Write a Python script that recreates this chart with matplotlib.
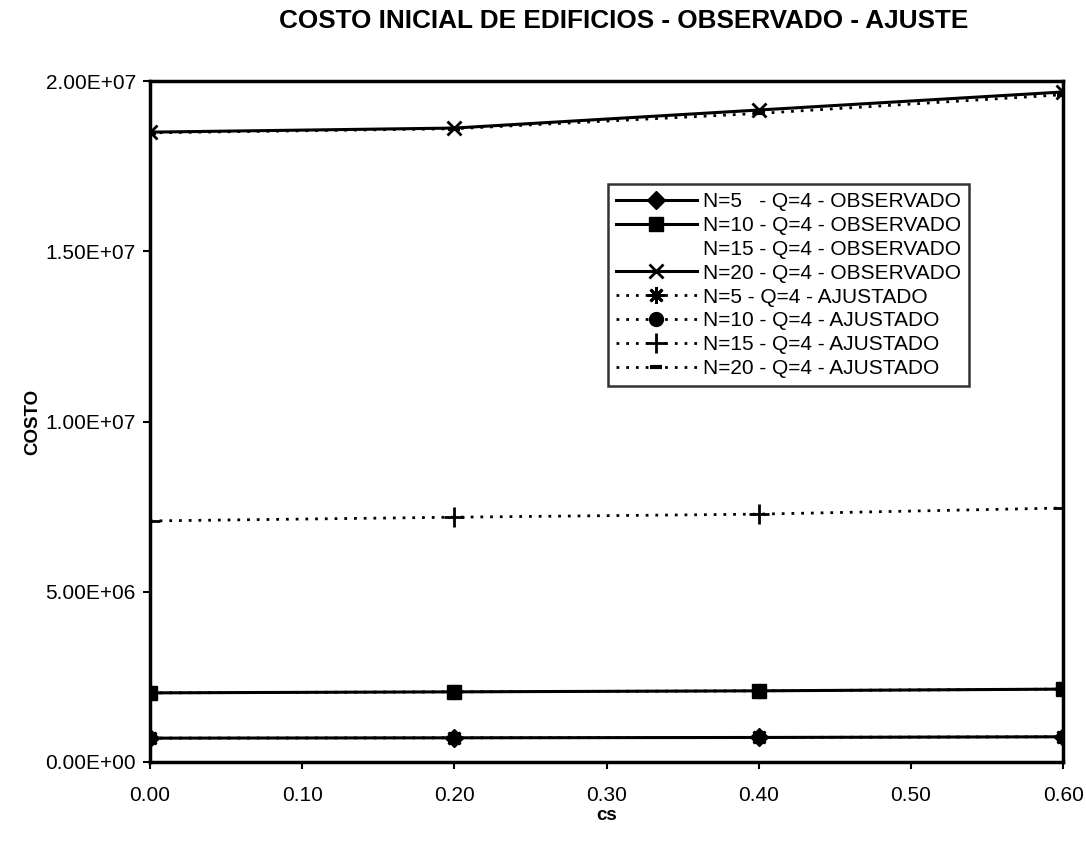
import matplotlib.pyplot as plt

plt.rcParams['font.family'] = ['Liberation Sans', 'DejaVu Sans']

cs = [0.0, 0.2, 0.4, 0.6]

# costos observados
obs_n5 = [7.0e5, 7.1e5, 7.2e5, 7.4e5]
obs_n10 = [2.03e6, 2.06e6, 2.09e6, 2.14e6]
obs_n15 = [7.08e6, 7.19e6, 7.28e6, 7.46e6]
obs_n20 = [1.850e7, 1.862e7, 1.915e7, 1.968e7]

# costos ajustados
aju_n5 = [7.0e5, 7.1e5, 7.2e5, 7.4e5]
aju_n10 = [2.03e6, 2.06e6, 2.09e6, 2.14e6]
aju_n15 = [7.08e6, 7.19e6, 7.28e6, 7.46e6]
aju_n20 = [1.848e7, 1.860e7, 1.905e7, 1.960e7]

labels_obs = ['N=5   - Q=4 - OBSERVADO', 'N=10 - Q=4 - OBSERVADO',
              'N=15 - Q=4 - OBSERVADO', 'N=20 - Q=4 - OBSERVADO']
labels_aju = ['N=5 - Q=4 - AJUSTADO', 'N=10 - Q=4 - AJUSTADO',
              'N=15 - Q=4 - AJUSTADO', 'N=20 - Q=4 - AJUSTADO']
yticks = [0, 5e6, 1e7, 1.5e7, 2e7]
ytick_labels = ['0.00E+00', '5.00E+06', '1.00E+07', '1.50E+07', '2.00E+07']

fig = plt.figure(figsize=(10.86, 8.49), dpi=100)
ax = fig.add_axes([0.138, 0.1025, 0.841, 0.802])

k = dict(color='black', linewidth=2.2)
ax.plot(cs, obs_n5, marker='D', markersize=9, label=labels_obs[0], **k)
ax.plot(cs, obs_n10, marker='s', markersize=10, label=labels_obs[1], **k)
ax.plot(cs, obs_n15, linestyle='none', marker='none', label=labels_obs[2], color='black')
ax.plot(cs, obs_n20, marker='x', markersize=10, markeredgewidth=2, label=labels_obs[3], **k)

d = dict(color='black', linewidth=2, linestyle=(0, (1, 2.5)))
ax.plot(cs, aju_n5, marker=(8, 2, 0), markersize=12, markeredgewidth=2, label=labels_aju[0], **d)
ax.plot(cs, aju_n10, marker='o', markersize=10, label=labels_aju[1], **d)
ax.plot(cs, aju_n15, marker='+', markersize=14, markeredgewidth=2, label=labels_aju[2], **d)
ax.plot(cs, aju_n20, marker='_', markersize=8, markeredgewidth=3, label=labels_aju[3], **d)

ax.set_xlim(0, 0.6)
ax.set_ylim(0, 2e7)
ax.set_xticks([0, 0.1, 0.2, 0.3, 0.4, 0.5, 0.6])
ax.set_xticklabels(['0.00', '0.10', '0.20', '0.30', '0.40', '0.50', '0.60'])
ax.set_yticks(yticks)
ax.set_yticklabels(ytick_labels)
ax.tick_params(labelsize=15, direction='out', length=5, width=1.5, colors='black')
ax.tick_params(axis='x', pad=12)
ax.tick_params(axis='y', pad=5)
for s in ax.spines.values():
    s.set_linewidth(2.5)

ax.set_title('COSTO INICIAL DE EDIFICIOS - OBSERVADO - AJUSTE',
             fontsize=18.8, fontweight='bold', pad=38, x=0.519)
ax.set_xlabel('cs', fontsize=13.5, fontweight='bold', labelpad=2)
ax.set_ylabel('COSTO', fontsize=13.5, fontweight='bold', labelpad=3)

leg = ax.legend(loc='upper left', bbox_to_anchor=(0.5016, 0.8488), fontsize=15,
                frameon=True, fancybox=False, edgecolor='black', handlelength=3.85,
                handletextpad=0.3, borderpad=0.4, labelspacing=0.23, borderaxespad=0)
leg.get_frame().set_linewidth(1.8)

fig.savefig('out.png', dpi=100)
